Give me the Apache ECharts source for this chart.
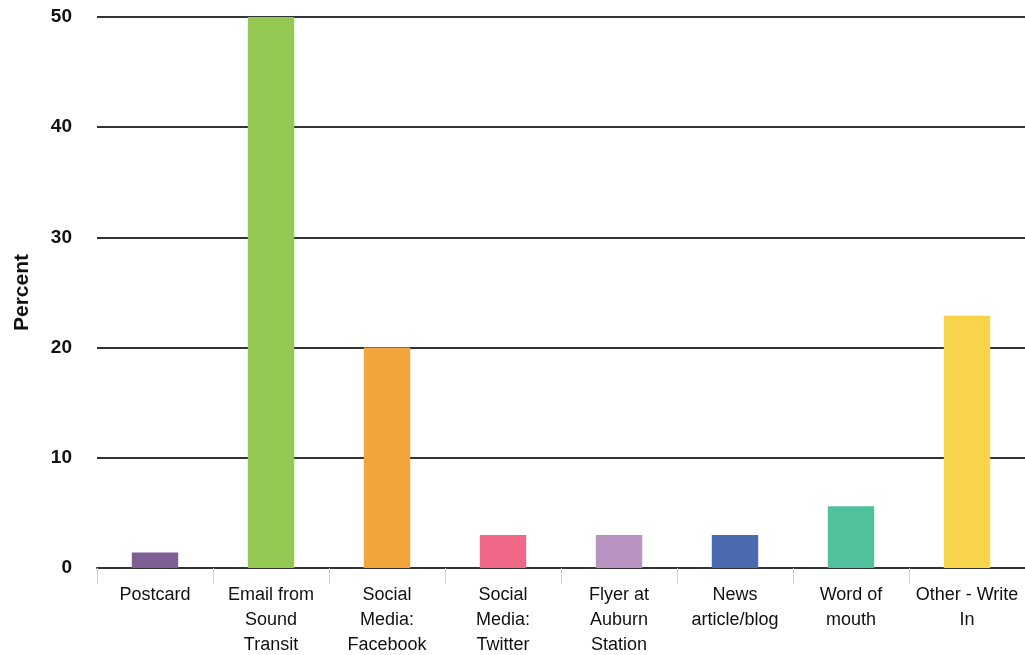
<!DOCTYPE html>
<html>
<head>
<meta charset="utf-8">
<script src="https://cdn.jsdelivr.net/npm/echarts@6/dist/echarts.min.js"></script>
<style>
  html, body { margin: 0; padding: 0; background: #fff; }
  #chart { width: 1025px; height: 655px; }
</style>
</head>
<body>
<div id="chart"></div>
<script>
// How respondents heard about the survey
const categories = [
  'Postcard',
  'Email from\nSound\nTransit',
  'Social\nMedia:\nFacebook',
  'Social\nMedia:\nTwitter',
  'Flyer at\nAuburn\nStation',
  'News\narticle/blog',
  'Word of\nmouth',
  'Other - Write\nIn'
];
const percentValues = [1.4, 50, 20, 3.0, 3.0, 3.0, 5.6, 22.9];
const barColors = ['#7d5f96', '#93c953', '#f2a53b', '#f06887', '#b993c2', '#4a6baf', '#4fc19d', '#f7d44a'];
const yTicks = { min: 0, max: 50, interval: 10 };

const chart = echarts.init(document.getElementById('chart'));
chart.setOption({
  animation: false,
  grid: { left: 97, right: 0, top: 17, bottom: 87, containLabel: false, outerBoundsMode: 'none' },
  xAxis: {
    type: 'category',
    data: categories,
    axisLine: { show: true, lineStyle: { color: '#333', width: 2 } },
    axisTick: { show: true, alignWithLabel: false, length: 16, lineStyle: { color: '#c3d0ea', width: 1 } },
    axisLabel: {
      interval: 0,
      margin: 15,
      color: '#111',
      fontFamily: 'Liberation Sans, Arial, sans-serif',
      fontSize: 18,
      lineHeight: 25
    }
  },
  yAxis: {
    type: 'value',
    min: yTicks.min,
    max: yTicks.max,
    interval: yTicks.interval,
    name: 'Percent',
    nameLocation: 'middle',
    nameGap: 64,
    nameTextStyle: { color: '#111', fontFamily: 'Liberation Sans, Arial, sans-serif', fontSize: 21, fontWeight: 'bold' },
    axisLine: { show: false },
    axisTick: { show: false },
    splitLine: { lineStyle: { color: '#333', width: 2 } },
    axisLabel: {
      margin: 25,
      color: '#111',
      fontFamily: 'Liberation Sans, Arial, sans-serif',
      fontSize: 19,
      fontWeight: 'bold'
    }
  },
  series: [{
    type: 'bar',
    barWidth: '40%',
    data: percentValues.map((v, i) => ({ value: v, itemStyle: { color: barColors[i] } }))
  }]
});
</script>
</body>
</html>
